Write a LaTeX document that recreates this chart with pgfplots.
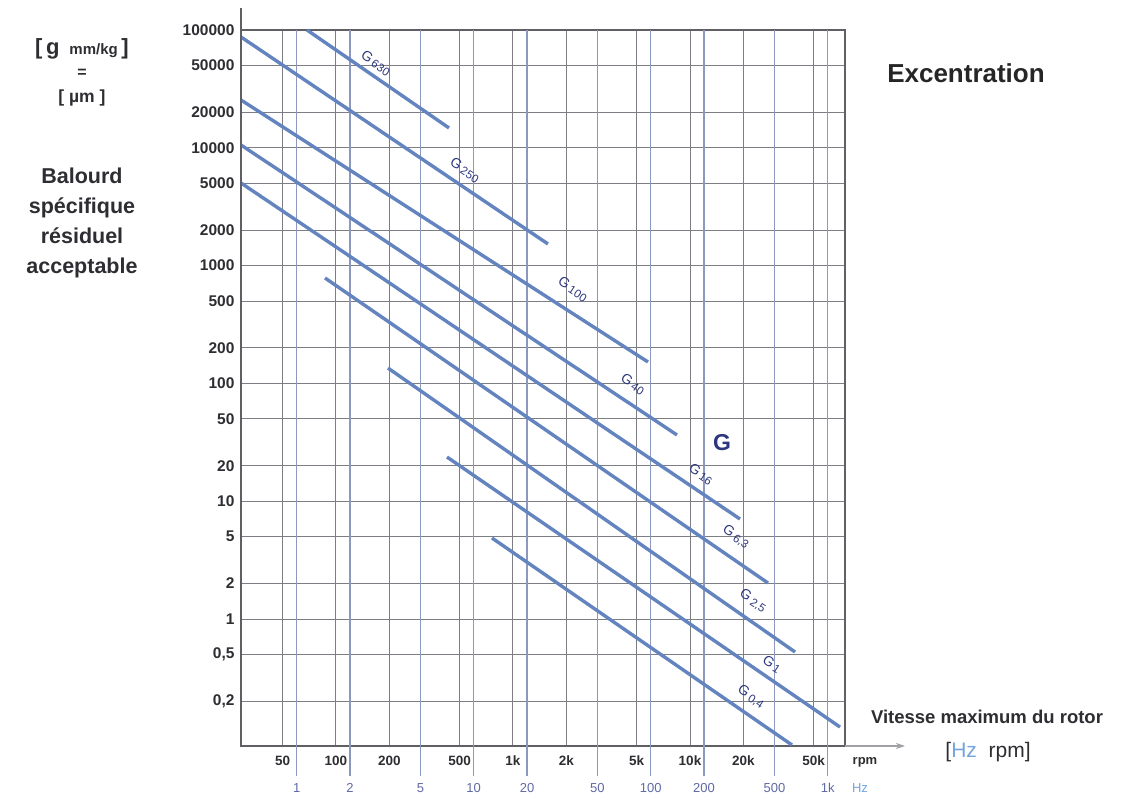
\documentclass[border=0pt]{standalone}
\usepackage{fontspec}
\setmainfont{Liberation Sans}
\usepackage{pgfplots}
\pgfplotsset{compat=1.18}
\usetikzlibrary{arrows.meta}
\definecolor{gline}{RGB}{100,132,192}
\definecolor{gridc}{RGB}{125,125,132}
\definecolor{gridhz}{RGB}{140,152,190}
\definecolor{axiscol}{RGB}{95,95,100}
\definecolor{arrowcol}{RGB}{160,160,165}
\definecolor{navy}{RGB}{45,55,125}
\definecolor{tickcol}{RGB}{45,45,50}
\definecolor{hzcol}{RGB}{95,105,165}
\definecolor{hzword}{RGB}{115,165,220}
\begin{document}
\begin{tikzpicture}[x=1pt,y=1pt]
\useasboundingbox (0,0) rectangle (1136,798);
\begin{axis}[
  at={(241pt,52pt)}, anchor=south west,
  scale only axis, width=604pt, height=716pt,
  xmode=log, ymode=log,
  xmin=29.07, xmax=75120, ymin=0.08355, ymax=100000,
  clip=false,
  xtick={50,100,200,500,1000,2000,5000,10000,20000,50000},
  xticklabels={50,100,200,500,1k,2k,5k,10k,20k,50k},
  extra x ticks={60,120,300,600,1200,3000,6000,12000,30000,60000},
  extra x tick labels={1,2,5,10,20,50,100,200,500,1k},
  extra x tick style={major grid style={draw=gridhz, line width=1.1pt},
     xticklabel style={yshift=-27pt, text=hzcol, font=\fontsize{13}{13}\selectfont}},
  ytick={0.2,0.5,1,2,5,10,20,50,100,200,500,1000,2000,5000,10000,20000,50000,100000},
  yticklabels={{0,2},{0,5},1,2,5,10,20,50,100,200,500,1000,2000,5000,10000,20000,50000,100000},
  grid=major,
  major grid style={draw=gridc, line width=1pt},
  major tick length=0pt, minor tick length=0pt,
  axis line style={draw=axiscol, line width=2pt},
  xticklabel style={anchor=center, yshift=-15pt, text=tickcol, font=\bfseries\fontsize{13.5}{13.5}\selectfont},
  yticklabel style={anchor=east, xshift=-3pt, text=tickcol, font=\bfseries\fontsize{15.5}{15.5}\selectfont},
]
\addplot[gline, line width=3.4pt] coordinates {(68.6,100000) (435,14730)};
\addplot[gline, line width=3.4pt] coordinates {(29.07,87200) (1577,1526)};
\addplot[gline, line width=3.4pt] coordinates {(29.07,25450) (5790,152)};
\addplot[gline, line width=3.4pt] coordinates {(29.07,10560) (8445,36.5)};
\addplot[gline, line width=3.4pt] coordinates {(29.07,5025) (19170,7.06)};
\addplot[gline, line width=3.4pt] coordinates {(86.7,785) (27590,2.02)};
\addplot[gline, line width=3.4pt] coordinates {(196.7,135) (39200,0.525)};
\addplot[gline, line width=3.4pt] coordinates {(424,23.7) (70400,0.121)};
\addplot[gline, line width=3.4pt] coordinates {(761,4.87) (37700,0.0852)};
\pgfplotsinvokeforeach{60,120,300,600,1200,3000,6000,12000,30000,60000}{
  \draw[draw=gridhz, line width=1.1pt] (axis cs:#1,0.08355) -- ++(0pt,-30pt);
}
\draw[draw=axiscol, line width=2.4pt] (rel axis cs:0,0) -- (rel axis cs:0,1) -- ++(0pt,22pt);
\draw[draw=arrowcol, line width=1.5pt, -{Stealth[length=9pt,width=6pt]}] (rel axis cs:1,0) -- ++(60pt,0pt);
\end{axis}
% G labels
\tikzset{glab/.style={rotate=-33.6, text=navy, font=\fontsize{14}{14}\selectfont, inner sep=0pt}}
\newcommand{\gl}[1]{G\,\raisebox{-1.5pt}{\fontsize{11.5}{11.5}\selectfont #1}}
\node[glab] at (376,735) {\gl{630}};
\node[glab] at (465,628) {\gl{250}};
\node[glab] at (573,509) {\gl{100}};
\node[glab] at (633,414) {\gl{40}};
\node[glab] at (701,324) {\gl{16}};
\node[glab] at (736,261) {\gl{6,3}};
\node[glab] at (753,197) {\gl{2,5}};
\node[glab] at (772,134) {\gl{1}};
\node[glab] at (751,101) {\gl{0,4}};
\node[text=navy, font=\bfseries\fontsize{23}{23}\selectfont] at (722,355) {G};
% left texts
\node[text=tickcol, font=\bfseries\fontsize{22}{22}\selectfont] at (82,749) {[\,g\;\,{\fontsize{15}{15}\selectfont mm/kg}\,]};
\node[text=tickcol, font=\bfseries\fontsize{16}{16}\selectfont] at (82,725) {=};
\node[text=tickcol, font=\bfseries\fontsize{17.5}{17.5}\selectfont] at (82,700) {[ µm ]};
\node[text=tickcol, align=center, font=\bfseries\fontsize{21.5}{30}\selectfont] at (82,575) {Balourd\\spécifique\\résiduel\\acceptable};
% right texts
\node[text=black!85, font=\bfseries\fontsize{26}{26}\selectfont] at (966,725) {Excentration};
\node[text=tickcol, font=\bfseries\fontsize{18.5}{18.5}\selectfont] at (987,81) {Vitesse maximum du rotor};
\node[text=tickcol, font=\fontsize{21}{21}\selectfont] at (988,46) {[{\color{hzword}Hz}\ \ rpm]};
\node[text=tickcol, font=\bfseries\fontsize{13}{13}\selectfont] at (865,36) {rpm};
\node[text=hzword, font=\fontsize{13}{13}\selectfont] at (860,10) {Hz};
\end{tikzpicture}
\end{document}
